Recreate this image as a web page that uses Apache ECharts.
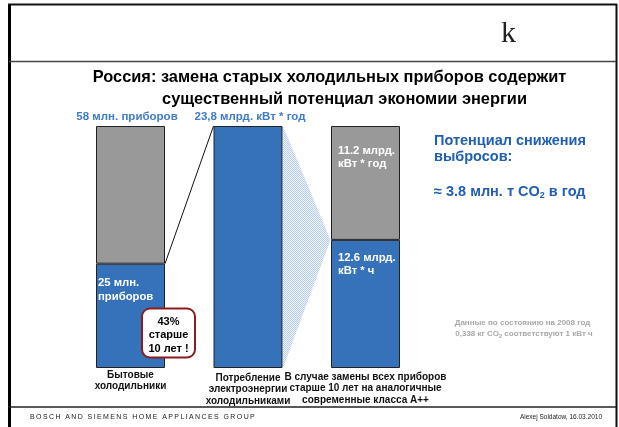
<!DOCTYPE html>
<html><head><meta charset="utf-8">
<script src="https://cdn.jsdelivr.net/npm/echarts@6/dist/echarts.min.js"></script>
<style>html,body{margin:0;padding:0;background:#fff}#c{width:619px;height:427px}</style>
</head><body><div id="c"></div>
<script>
// ---- data ----
const categories = [
  'Бытовые\nхолодильники',
  'Потребление\nэлектроэнергии\nхолодильниками',
  'В случае замены всех приборов\nстарше 10 лет на аналогичные\nсовременные класса А++'
];
const devicesOld  = [25, '-', '-'];      // млн. приборов старше 10 лет
const devicesRest = [33, '-', '-'];      // остальные, млн. приборов
const energyBase  = ['-', 23.8, 12.6];   // млрд. кВт*ч в год
const energySaved = ['-', '-', 11.2];    // экономия, млрд. кВт*ч в год
const devicesMax = 58;
const energyMax = 23.8;
const oldShareText = '43%\nстарше\n10 лет !';

const BLUE = '#3572ba', GRAY = '#999999', TXTBLUE = '#3f7cc8', DARKBLUE = '#1f5fb3';
const FF = 'Liberation Sans, Arial, sans-serif';

const chart = echarts.init(document.getElementById('c'), null, {renderer: 'canvas'});

const lab = (cfg) => Object.assign({show: true, color: '#fff', fontFamily: FF, fontWeight: 'bold', fontSize: 11.3, lineHeight: 14, align: 'left', verticalAlign: 'top'}, cfg);

const s1 = devicesOld.map((v, i) => i === 0 ? {value: v, label: lab({position: [2, 12], formatter: v + ' млн.\nприборов'})} : v);
const s2 = devicesRest.map((v, i) => i === 0 ? {value: v, label: lab({position: 'top', distance: 2, offset: [-3.5, 0], color: TXTBLUE, fontSize: 11.5, align: 'center', verticalAlign: 'bottom', formatter: devicesMax + ' млн. приборов'})} : v);
const s3 = energyBase.map((v, i) => {
  if (i === 1) return {value: v, label: lab({position: 'top', distance: 2, offset: [2, 0], color: TXTBLUE, fontSize: 11.5, align: 'center', verticalAlign: 'bottom', formatter: String(v).replace('.', ',') + ' млрд. кВт * год'})};
  if (i === 2) return {value: v, label: lab({position: [7, 11], lineHeight: 13.5, formatter: v + ' млрд.\nкВт * ч'})};
  return v;
});
const s4 = energySaved.map((v, i) => i === 2 ? {value: v, label: lab({position: [7, 18], lineHeight: 13, formatter: v + ' млрд.\nкВт * год'})} : v);

const catPad = [1, 4, 3];
chart.setOption({
  animation: false,
  grid: {left: 71.75, width: 352.5, top: 126, height: 242, containLabel: false},
  xAxis: {
    type: 'category',
    data: categories.map((c, i) => ({value: c, textStyle: {padding: [catPad[i], 0, 0, 0]}})),
    axisLine: {show: false}, axisTick: {show: false}, splitLine: {show: false},
    axisLabel: {interval: 0, margin: 0, color: '#111', fontFamily: FF, fontWeight: 'bold', fontSize: 10, lineHeight: 11.5, verticalAlign: 'top'}
  },
  yAxis: [
    {type: 'value', min: 0, max: devicesMax, show: false},
    {type: 'value', min: 0, max: energyMax, show: false}
  ],
  series: [
    {type: 'bar', stack: 'dev', yAxisIndex: 0, data: s1, barWidth: 69, barGap: '-100%', itemStyle: {color: BLUE, borderColor: '#222', borderWidth: 1}},
    {type: 'bar', stack: 'dev', yAxisIndex: 0, data: s2, barWidth: 69, barGap: '-100%', itemStyle: {color: GRAY, borderColor: '#222', borderWidth: 1}},
    {type: 'bar', stack: 'en', yAxisIndex: 1, data: s3, barWidth: 69, barGap: '-100%', itemStyle: {color: BLUE, borderColor: '#222', borderWidth: 1}},
    {type: 'bar', stack: 'en', yAxisIndex: 1, data: s4, barWidth: 69, barGap: '-100%', itemStyle: {color: GRAY, borderColor: '#222', borderWidth: 1}}
  ]
});

// pattern for the dotted wedge
const pc = document.createElement('canvas');
pc.width = 2; pc.height = 2;
const pctx = pc.getContext('2d');
pctx.fillStyle = '#eef3fa'; pctx.fillRect(0, 0, 2, 2);
pctx.fillStyle = '#b8cceb'; pctx.fillRect(0, 0, 1, 1); pctx.fillRect(1, 1, 1, 1);

const half = 69 / 2;
const pOld = chart.convertToPixel({xAxisIndex: 0, yAxisIndex: 0}, [0, devicesOld[0]]);
const pMidTop = chart.convertToPixel({xAxisIndex: 0, yAxisIndex: 1}, [1, energyBase[1]]);
const pMidBot = chart.convertToPixel({xAxisIndex: 0, yAxisIndex: 1}, [1, 0]);
const pRight = chart.convertToPixel({xAxisIndex: 0, yAxisIndex: 1}, [2, energyBase[2]]);

const T = (x, y, text, o) => ({type: 'text', x, y, z: 10, style: Object.assign({text, fill: '#000', font: 'bold 10px ' + FF, textAlign: 'left', textVerticalAlign: 'middle'}, o || {})});

chart.setOption({
  graphic: [
    // frame
    {type: 'line', shape: {x1: 9.5, y1: 4, x2: 9.5, y2: 427}, style: {stroke: '#000', lineWidth: 3}},
    {type: 'line', shape: {x1: 8, y1: 4.5, x2: 617, y2: 4.5}, style: {stroke: '#111', lineWidth: 2}},
    {type: 'line', shape: {x1: 616.5, y1: 4, x2: 616.5, y2: 427}, style: {stroke: '#111', lineWidth: 2}},
    {type: 'line', shape: {x1: 9, y1: 61.5, x2: 616, y2: 61.5}, style: {stroke: '#444', lineWidth: 1.5}},
    {type: 'line', shape: {x1: 9, y1: 407, x2: 616, y2: 407}, style: {stroke: '#222', lineWidth: 1.5}},
    // header logo letter
    {type: 'text', x: 508.5, y: 49, style: {text: 'k', fill: '#222', font: '30px Liberation Serif, serif', textAlign: 'center', textVerticalAlign: 'bottom'}},
    // title
    T(329.5, 77.5, 'Россия: замена старых холодильных приборов содержит', {font: 'bold 16.4px ' + FF, textAlign: 'center'}),
    T(344.5, 99, 'существенный потенциал экономии энергии', {font: 'bold 16.4px ' + FF, textAlign: 'center'}),
    // right block
    T(434, 141, 'Потенциал снижения', {font: 'bold 14.5px ' + FF, fill: DARKBLUE}),
    T(434, 157, 'выбросов:', {font: 'bold 14.5px ' + FF, fill: DARKBLUE}),
    {type: 'text', x: 434, y: 183.5, z: 10, style: {text: '{m|≈ 3.8 млн. т CO}{s|2}{m| в год}', textAlign: 'left', textVerticalAlign: 'top',
      rich: {m: {fill: DARKBLUE, font: 'bold 14.5px ' + FF, lineHeight: 17, verticalAlign: 'middle'}, s: {fill: DARKBLUE, font: 'bold 9px ' + FF, lineHeight: 9, verticalAlign: 'bottom'}}}},
    // note
    T(522.5, 322.5, 'Данные по состоянию на 2008 год', {font: 'bold 8px ' + FF, fill: '#a8a8a8', textAlign: 'center'}),
    {type: 'text', x: 524, y: 328, z: 10, style: {text: '{m|0,338 кг CO}{s|2}{m| соответствуют 1 кВт ч}', textAlign: 'center', textVerticalAlign: 'top',
      rich: {m: {fill: '#a8a8a8', font: 'bold 8px ' + FF, lineHeight: 11, verticalAlign: 'middle'}, s: {fill: '#a8a8a8', font: 'bold 5.5px ' + FF, lineHeight: 5.5, verticalAlign: 'bottom'}}}},
    // footer
    T(30, 417, 'BOSCH AND SIEMENS HOME APPLIANCES GROUP'.split('').join('\u2009'), {font: '7px ' + FF, fill: '#222'}),
    T(602, 417, 'Alexej Soldatow, 16.03.2010', {font: '6.5px ' + FF, fill: '#222', textAlign: 'right'}),
    // wedge & connector
    {type: 'polygon', z: 1, shape: {points: [[pMidTop[0] + half + 0.5, pMidTop[1]], [pMidBot[0] + half + 0.5, pMidBot[1]], [pRight[0] - half - 0.5, pRight[1]]]},
      style: {fill: {image: pc, repeat: 'repeat'}}},
    {type: 'line', z: 5, shape: {x1: pOld[0] + half, y1: pOld[1], x2: pMidTop[0] - half, y2: pMidTop[1]}, style: {stroke: '#111', lineWidth: 1}},
    // callout box
    {type: 'rect', z: 8, shape: {x: 142, y: 308.5, width: 53, height: 49, r: 8}, style: {fill: '#fff', stroke: '#8b1c1c', lineWidth: 2}},
    {type: 'text', z: 9, x: 168.5, y: 335, style: {text: oldShareText, fill: '#000', font: 'bold 11px ' + FF, lineHeight: 13.5, textAlign: 'center', textVerticalAlign: 'middle'}}
  ]
});
</script></body></html>
